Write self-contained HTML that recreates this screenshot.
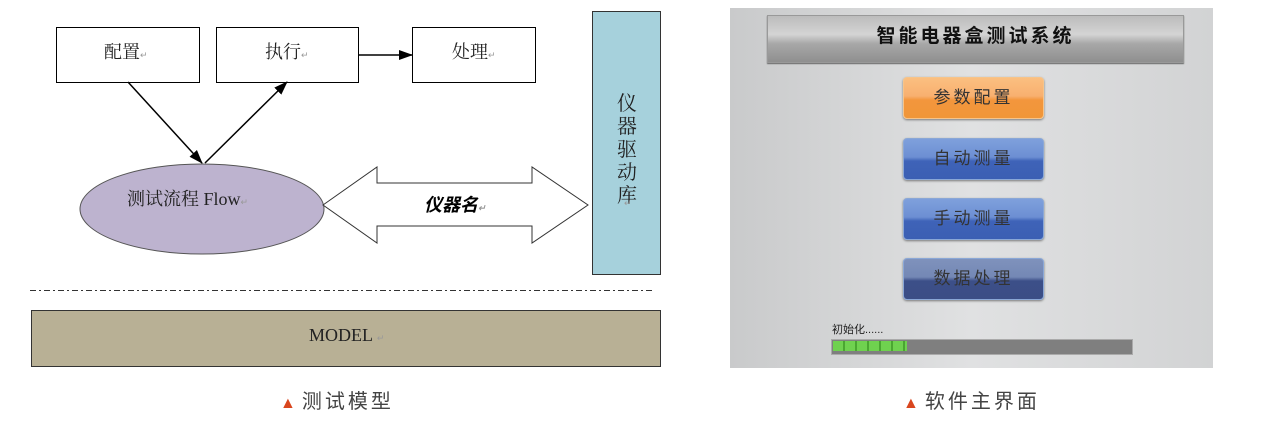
<!DOCTYPE html>
<html><head><meta charset="utf-8"><style>
body{margin:0;width:1270px;height:430px;background:#fff;position:relative;overflow:hidden;font-family:"Liberation Serif","Noto Serif CJK SC",serif}
.a{position:absolute}
.btn{position:absolute;left:903px;width:139px;height:40px;border-radius:4px;border:1px solid #8aa7d6;box-shadow:0 1px 2px #777;font-family:"Liberation Sans","Noto Sans CJK SC",sans-serif;font-size:17px;letter-spacing:3px;text-align:center;line-height:40px;color:#333}
.blue{background:linear-gradient(#7fa0dc 0%,#6d8fd3 45%,#3f63b8 55%,#3b5fb3 100%)}
.cap{position:absolute;top:385px;font-family:"Liberation Sans","Noto Sans CJK SC",sans-serif;font-size:20px;letter-spacing:3px;color:#444}
.cap span{color:#d9461e;font-size:16px;margin-right:6px;letter-spacing:0}
</style></head><body>
<svg class="a" style="left:0;top:0" width="700" height="380">
<defs><marker id="m" markerWidth="14" markerHeight="12" refX="13" refY="6" orient="auto" markerUnits="userSpaceOnUse"><path d="M0,1 L14,6 L0,11z" fill="#000"/></marker></defs>
<rect x="56.5" y="27.5" width="143" height="55" fill="#fff" stroke="#000"/>
<rect x="216.5" y="27.5" width="142" height="55" fill="#fff" stroke="#000"/>
<rect x="412.5" y="27.5" width="123" height="55" fill="#fff" stroke="#000"/>
<rect x="592.5" y="11.5" width="68" height="263" fill="#a6d1dc" stroke="#333"/>
<ellipse cx="202" cy="209" rx="122" ry="45" fill="#bdb3cf" stroke="#555"/>
<path d="M323,205 L377,167 L377,183 L532,183 L532,167 L588,205 L532,243 L532,226 L377,226 L377,243Z" fill="#fff" stroke="#333"/>
<line x1="128" y1="82" x2="202" y2="163" stroke="#000" stroke-width="1.5" marker-end="url(#m)"/>
<line x1="205" y1="163" x2="287" y2="82" stroke="#000" stroke-width="1.5" marker-end="url(#m)"/>
<line x1="358" y1="55" x2="412" y2="55" stroke="#000" stroke-width="1.5" marker-end="url(#m)"/>
<line x1="30" y1="290.5" x2="655" y2="290.5" stroke="#333" stroke-dasharray="6,3,2,3"/>
<rect x="31.5" y="310.5" width="629" height="56" fill="#b8b095" stroke="#333"/>
<g font-family="Liberation Serif,Noto Serif CJK SC,serif" font-size="18" fill="#222">
<text x="104" y="58">配置<tspan font-size="9" fill="#999">↵</tspan></text>
<text x="265" y="58">执行<tspan font-size="9" fill="#999">↵</tspan></text>
<text x="452" y="58">处理<tspan font-size="9" fill="#999">↵</tspan></text>
<text x="127" y="205">测试流程 Flow<tspan font-size="9" fill="#999">↵</tspan></text>
<text x="424" y="211" font-style="italic" font-weight="bold" font-family="Liberation Sans,Noto Sans CJK SC,sans-serif" fill="#000">仪器名<tspan font-size="9" fill="#999">↵</tspan></text>
<text x="309" y="341">MODEL <tspan font-size="9" fill="#999">↵</tspan></text>
<g font-size="20"><text x="617" y="110">仪</text><text x="617" y="133">器</text><text x="617" y="156">驱</text><text x="617" y="179">动</text><text x="617" y="202">库</text></g>
<text x="624" y="206" font-size="9" fill="#999">↵</text>
</g></svg>
<div class="a" style="left:730px;top:8px;width:483px;height:360px;background:linear-gradient(90deg,#c9cacb,#e0e1e2 50%,#d2d3d4)"></div>
<div class="a" style="left:767px;top:15px;width:415px;height:46px;background:linear-gradient(#bcbcbc,#d4d4d4 40%,#a8a8a8 60%,#8f8f8f);border:1px solid #999;box-shadow:0 1px 1px #666;font-family:'Liberation Sans','Noto Sans CJK SC',sans-serif;font-weight:bold;font-size:19px;letter-spacing:3px;text-align:center;line-height:42px;color:#111">智能电器盒测试系统</div>
<div class="btn" style="top:77px;border-color:#f6c48a;background:linear-gradient(#fbbf80,#f8b070 45%,#f3963d 55%,#f09638)">参数配置</div>
<div class="btn blue" style="top:138px">自动测量</div>
<div class="btn blue" style="top:198px">手动测量</div>
<div class="btn" style="top:258px;background:linear-gradient(#7f92bc,#7488b5 45%,#3c4f88 55%,#3b4e86)">数据处理</div>
<div class="a" style="left:832px;top:321px;font-family:'Liberation Sans','Noto Sans CJK SC',sans-serif;font-size:11px;color:#222">初始化......</div>
<div class="a" style="left:831px;top:339px;width:300px;height:14px;background:#7f7f7f;border:1px solid #aaa"></div>
<div class="a" style="left:833px;top:341px;width:74px;height:10px;background:repeating-linear-gradient(90deg,#6fd14f 0 10px,#4aa631 10px 12px)"></div>
<div class="cap" style="left:280px"><span>▲</span>测试模型</div>
<div class="cap" style="left:903px"><span>▲</span>软件主界面</div>
</body></html>
